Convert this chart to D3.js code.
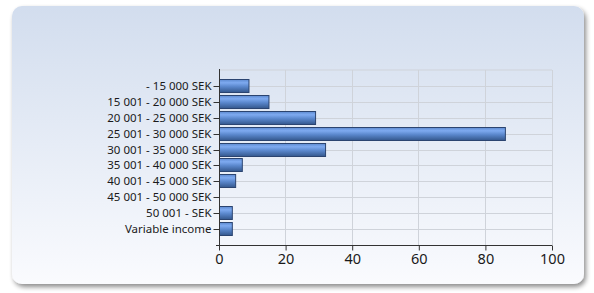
<!DOCTYPE html>
<html><head><meta charset="utf-8">
<script src="https://cdn.jsdelivr.net/npm/d3@7"></script>
<style>html,body{margin:0;padding:0;background:#fff;}svg{display:block;}</style>
</head><body>
<svg id="c" width="594" height="293"></svg>
<script>
const categories = ["- 15 000 SEK","15 001 - 20 000 SEK","20 001 - 25 000 SEK","25 001 - 30 000 SEK","30 001 - 35 000 SEK","35 001 - 40 000 SEK","40 001 - 45 000 SEK","45 001 - 50 000 SEK","50 001 - SEK","Variable income"];
const values = [9, 15, 29, 86, 32, 7, 5, 0, 4, 4];
const xTicks = [0, 20, 40, 60, 80, 100];

const FONT = "'Noto Sans', 'Open Sans', sans-serif";
const svg = d3.select("#c");
const defs = svg.append("defs");
const bg = defs.append("linearGradient").attr("id","bg").attr("x1",0).attr("y1",0).attr("x2",0).attr("y2",1);
bg.append("stop").attr("offset","0%").attr("stop-color","#d2ddee");
bg.append("stop").attr("offset","100%").attr("stop-color","#fafbfe");
const bar = defs.append("linearGradient").attr("id","bar").attr("x1",0).attr("y1",0).attr("x2",0).attr("y2",1);
bar.append("stop").attr("offset","0%").attr("stop-color","#5d8ad0");
bar.append("stop").attr("offset","25%").attr("stop-color","#7eaaf0");
bar.append("stop").attr("offset","55%").attr("stop-color","#5a87cc");
bar.append("stop").attr("offset","100%").attr("stop-color","#34578c");
const f = defs.append("filter").attr("id","sh").attr("x","-5%").attr("y","-5%").attr("width","110%").attr("height","115%");
f.append("feGaussianBlur").attr("in","SourceAlpha").attr("stdDeviation",2.5);
f.append("feOffset").attr("dx",2).attr("dy",3).attr("result","b");
f.append("feComponentTransfer").append("feFuncA").attr("type","linear").attr("slope",0.45);
const m = f.append("feMerge"); m.append("feMergeNode"); m.append("feMergeNode").attr("in","SourceGraphic");

svg.append("rect").attr("x",12).attr("y",6).attr("width",572).attr("height",278).attr("rx",10)
  .attr("fill","url(#bg)").attr("filter","url(#sh)");

const x = d3.scaleLinear().domain([0,100]).range([219,552]);
const y = d3.scalePoint().domain(categories).range([70,245]).padding(1);

const g = svg.append("g");
g.selectAll(".vg").data(xTicks.slice(1)).join("line")
  .attr("x1",d=>x(d)).attr("x2",d=>x(d)).attr("y1",70).attr("y2",245)
  .attr("stroke","#cfd3da").attr("stroke-width",1).attr("shape-rendering","crispEdges");
g.selectAll(".hg").data([null, ...categories]).join("line")
  .attr("x1",x(0)).attr("x2",x(100)).attr("y1",d=>d===null?70:Math.round(y(d))+0.5).attr("y2",d=>d===null?70:Math.round(y(d))+0.5)
  .attr("stroke","#cfd3da").attr("stroke-width",1);

const bh = 13;
g.selectAll(".bar").data(values).join("rect")
  .attr("x",x(0)+0.5).attr("y",(d,i)=>Math.round(y(categories[i]))-bh/2)
  .attr("width",d=>Math.max(0,x(d)-x(0)-0.5)).attr("height",bh)
  .attr("fill","url(#bar)").attr("stroke",d=>d>0?"#2b4470":"none").attr("stroke-width",1)
  .style("display",d=>d>0?null:"none");

const ax = svg.append("g").attr("transform","translate(0,245.5)")
  .call(d3.axisBottom(x).tickValues(xTicks).tickSize(5).tickSizeOuter(0).tickPadding(3));
ax.select(".domain").attr("stroke","#333").attr("d",`M${x(0)-3},0H${x(100)}`);
ax.selectAll(".tick line").attr("stroke","#333");
ax.selectAll("text").attr("font-family",FONT).attr("font-size",14.5).attr("fill","#1a1a1a");

const ay = svg.append("g").attr("transform",`translate(${x(0)+0.5},0)`)
  .call(d3.axisLeft(y).tickSize(6).tickSizeOuter(0).tickPadding(2));
ay.select(".domain").attr("stroke","#333").attr("d","M0,69V250");
ay.selectAll(".tick").attr("transform",d=>`translate(0,${Math.round(y(d))+0.5})`);
ay.selectAll(".tick line").attr("stroke","#333");
ay.selectAll("text").attr("font-family",FONT).attr("font-size",11.5).attr("fill","#1a1a1a");
</script>
</body></html>
